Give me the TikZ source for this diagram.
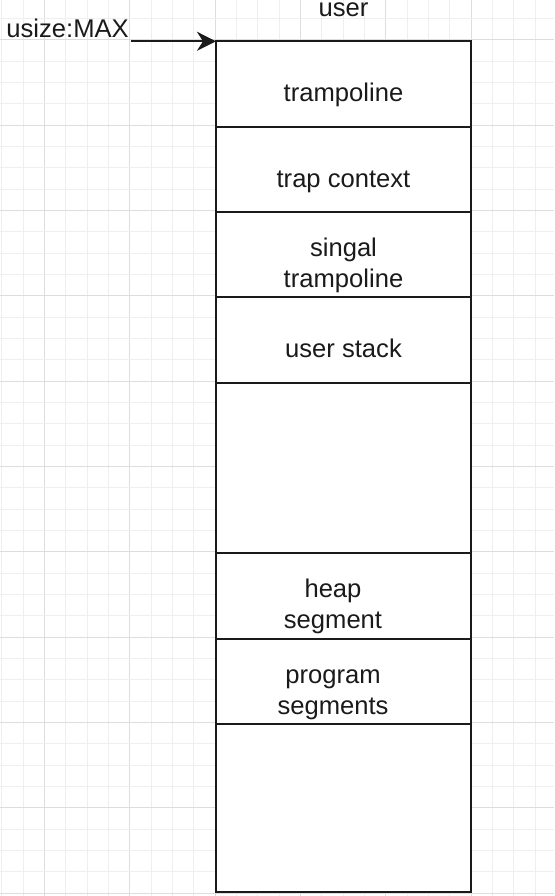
\documentclass[tikz,border=0pt]{standalone}
\usepackage{fontspec}
\setmainfont{Liberation Sans}
\usetikzlibrary{arrows.meta}
\definecolor{gridminor}{HTML}{EFEFEF}
\definecolor{gridmajor}{HTML}{DDDDDD}
\definecolor{ink}{HTML}{1A1A1A}
\begin{document}
\begin{tikzpicture}[x=1pt,y=-1pt,
  cell/.style={draw=ink, fill=white, line width=2.2pt, minimum width=255pt,
    inner sep=0pt, outer sep=0pt, anchor=north west},
  lbl/.style={font=\fontsize{25.6}{31}\selectfont, align=center, text=ink,
    inner sep=0pt, anchor=base},
  pointer/.style={draw=ink, line width=2.2pt, -{Stealth[length=19pt,width=19pt,inset=6pt]}}
]
\useasboundingbox (0,0) rectangle (554,896);
\fill[white] (0,0) rectangle (554,896);
% grid
\foreach \k in {0,...,25}{
  \pgfmathsetmacro\xx{1.667+21.333*\k}
  \pgfmathtruncatemacro\m{mod(\k,4)}
  \ifnum\m=2 \def\gc{gridmajor}\else\def\gc{gridminor}\fi
  \draw[\gc, line width=1pt] (\xx,0) -- (\xx,896);
}
\foreach \k in {0,...,41}{
  \pgfmathsetmacro\yy{18.667+21.333*\k}
  \pgfmathtruncatemacro\m{mod(\k,4)}
  \ifnum\m=1 \def\gc{gridmajor}\else\def\gc{gridminor}\fi
  \draw[\gc, line width=1pt] (0,\yy) -- (554,\yy);
}
% cells
\node[cell, minimum height=85.33pt] (c1) at (216,41.3) {};
\node[cell, minimum height=85.33pt] (c2) at (216,126.67) {};
\node[cell, minimum height=85.33pt] (c3) at (216,212) {};
\node[cell, minimum height=85.33pt] (c4) at (216,297.33) {};
\node[cell, minimum height=170.67pt] (c5) at (216,382.67) {};
\node[cell, minimum height=85.33pt] (c6) at (216,553.33) {};
\node[cell, minimum height=85.33pt] (c7) at (216,638.67) {};
\node[cell, minimum height=168pt] (c8) at (216,724) {};
% labels (multi-line: base = last line's baseline)
\node[lbl] (user) at (343.5,17) {user};
\node[lbl, anchor=base east] (max) at (129,37.7) {usize:MAX};
\node[lbl] (t1) at (343.5,101.7) {trampoline};
\node[lbl] (t2) at (343.5,187) {trap context};
\node[lbl] (t3) at (343.5,287.2) {singal\\trampoline};
\node[lbl] (t4) at (343.5,357.7) {user stack};
\node[lbl] (t6) at (333,628.3) {heap\\segment};
\node[lbl] (t7) at (333,714.3) {program\\segments};
% arrow
\coordinate (start) at (131,41.3);
\draw[pointer] (start) -- (c1.north west);
\end{tikzpicture}
\end{document}
